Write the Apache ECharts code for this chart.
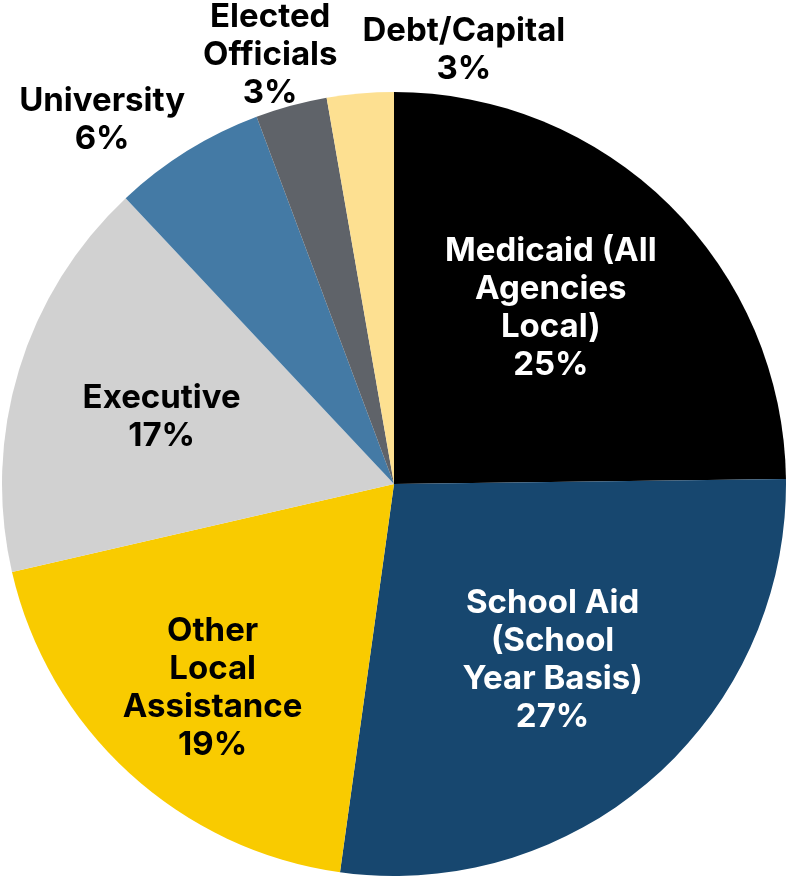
<!DOCTYPE html>
<html>
<head>
<meta charset="utf-8">
<script src="https://cdn.jsdelivr.net/npm/echarts@6/dist/echarts.min.js"></script>
<style>
html,body{margin:0;padding:0;background:#fff;}
#chart{width:786px;height:876px;}
</style>
</head>
<body>
<div id="chart"></div>
<script>
// Data
const categories = [
  'Medicaid (All\nAgencies\nLocal)',
  'School Aid\n(School\nYear Basis)',
  'Other\nLocal\nAssistance',
  'Executive',
  'University',
  'Elected\nOfficials',
  'Debt/Capital'
];
const shares = [24.8, 27.4, 19.2, 16.6, 6.3, 2.95, 2.75];

// Styles
const sliceColors = ['#000000', '#17476f', '#f9cb00', '#d1d1d1', '#447aa5', '#5f6369', '#fde091'];
const labelColors = ['#ffffff', '#ffffff', '#000000', '#000000', '#000000', '#000000', '#000000'];
const labelInside = [true, true, true, true, false, false, false];
const labelNudge = [[17, -34], [27, 27], [-47, 57], [-42, -9], [-72, -18], [-12, -36], [110, -28]];

const chart = echarts.init(document.getElementById('chart'));
chart.setOption({
  animation: false,
  series: [{
    type: 'pie',
    center: [394, 484],
    radius: ['0%', 392],
    startAngle: 90,
    clockwise: true,
    percentPrecision: 0,
    avoidLabelOverlap: false,
    silent: true,
    itemStyle: { borderWidth: 0 },
    label: {
      fontFamily: 'Inter',
      fontWeight: 'bold',
      fontSize: 33,
      lineHeight: 38,
      width: 320,
      formatter: '{b}\n{d}%'
    },
    labelLine: { show: false, length: 15, length2: 0 },
    labelLayout: function (p) {
      const n = labelNudge[p.dataIndex];
      return { dx: n[0], dy: n[1], align: 'center' };
    },
    data: categories.map(function (name, i) {
      return {
        name: name,
        value: shares[i],
        itemStyle: { color: sliceColors[i] },
        label: {
          position: labelInside[i] ? 'inside' : 'outside',
          color: labelColors[i]
        }
      };
    })
  }]
});
</script>
</body>
</html>
